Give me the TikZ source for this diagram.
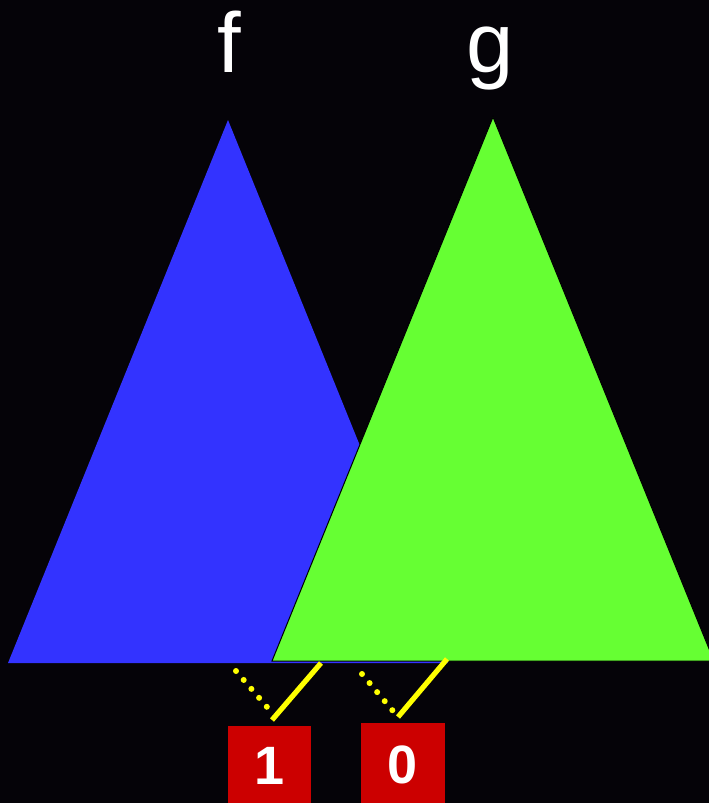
\documentclass[tikz,border=0pt]{standalone}
\usepackage{fontspec}
\setmainfont{Liberation Sans}
\usepackage{tikz}
\usetikzlibrary{positioning,calc}
\definecolor{bgdark}{HTML}{050308}
\definecolor{fblue}{HTML}{3333FF}
\definecolor{ggreen}{HTML}{66FF33}
\definecolor{leafred}{HTML}{CC0000}
\definecolor{edgeyellow}{HTML}{FFFF00}

\tikzset{
  treelabel/.style={text=white, inner sep=0pt, anchor=base, font=\fontsize{85}{90}\selectfont},
  leafbox/.style={fill=leafred, draw=none, inner sep=0pt, minimum width=83pt, minimum height=80pt, text=white, font=\bfseries\fontsize{54}{60}\selectfont},
  highedge/.style={draw=edgeyellow, line width=5.2pt},
  lowedge/.style={draw=edgeyellow, line width=6pt, line cap=round, dash pattern=on 0pt off 11.8pt}
}

\begin{document}
\begin{tikzpicture}[x=1pt, y=-1pt]
    % Background
    \fill[bgdark] (0,0) rectangle (709,803);
    \useasboundingbox (0,0) rectangle (709,803);

    % Tree f
    \coordinate (ftop) at (228,120);
    \coordinate (fleft) at (8,663);
    \coordinate (fright) at (448,663);
    \fill[fblue] (ftop) -- (fleft) -- (fright) -- cycle;
    \node[treelabel] (flabel) at (229,72) {f};

    % Tree g
    \coordinate (gtop) at (493,117);
    \coordinate (gleft) at (272,661);
    \coordinate (gright) at (714,661);
    \filldraw[fill=ggreen, draw=black, line width=1pt] (gtop) -- (gleft) -- (gright) -- cycle;
    \node[treelabel] (glabel) at (490,72) {g};

    % Terminals
    \node[leafbox] (one) at (269.5,766) {1};
    \node[leafbox, minimum width=84pt, minimum height=83pt] (zero) at (403,764.5) {0};

    % Edge end points
    \coordinate (oneHi) at (321,663);
    \coordinate (oneLo) at (236,671);
    \coordinate (oneIn) at (272,720);
    \coordinate (zeroHi) at (447,659);
    \coordinate (zeroLo) at (362,674);
    \coordinate (zeroIn) at (398,717);

    % Connections
    \draw[highedge] (oneHi) -- (oneIn);
    \draw[lowedge] (oneLo) -- ($(oneLo)!1.02!(267,707)$);
    \draw[highedge] (zeroHi) -- (zeroIn);
    \draw[lowedge] (zeroLo) -- ($(zeroLo)!1.02!(393,711)$);
\end{tikzpicture}
\end{document}
